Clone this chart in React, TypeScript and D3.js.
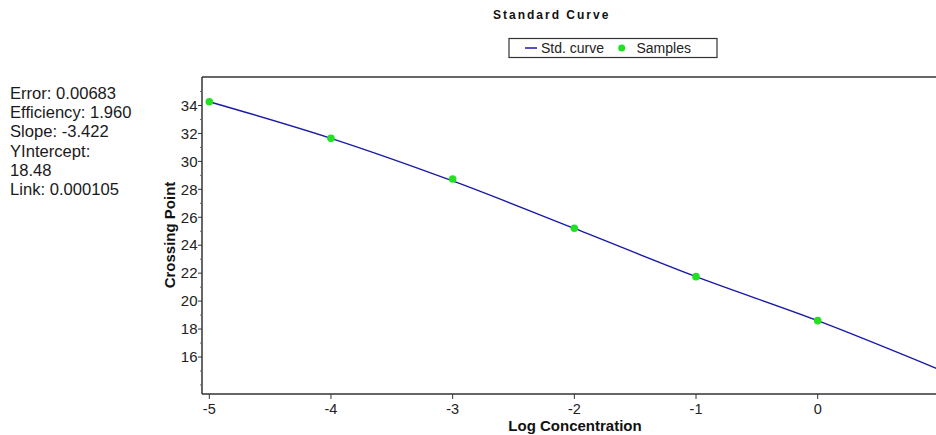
import React from "react";
import * as d3 from "d3";

const statLines = ["Error: 0.00683", "Efficiency: 1.960", "Slope: -3.422", "YIntercept:", "18.48", "Link: 0.000105"];
const sampleX = [-5, -4, -3, -2, -1, 0];
const sampleY = [34.27, 31.65, 28.74, 25.21, 21.75, 18.6];
const curveX = [-5, -4, -3, -2, -1, 0, 1];
const curveY = [34.27, 31.65, 28.6, 25.2, 21.75, 18.6, 15.1];
const xTicks = [-5, -4, -3, -2, -1, 0];
const yTicks = [16, 18, 20, 22, 24, 26, 28, 30, 32, 34];
const yMinor = [14, 15, 17, 19, 21, 23, 25, 27, 29, 31, 33, 35];

const W = 936, H = 435;
const left = 202, top = 77, right = 948, bottom = 394;
const sans = "'Liberation Sans', Arial, sans-serif";

export default function App() {
  const x = d3.scaleLinear().domain([-5, 0]).range([209.3, 817.7]);
  const y = d3.scaleLinear().domain([16, 34]).range([357, 105.5]);
  const line = d3.line<number>().x((_, i) => x(curveX[i])).y((d) => y(d)).curve(d3.curveMonotoneX);
  const axisColor = "#333";
  return (
    <svg width={W} height={H} style={{ position: "absolute", left: 0, top: 0, background: "#fff" }}>
      <defs>
        <clipPath id="plot">
          <rect x={left} y={top} width={right - left} height={bottom - top} />
        </clipPath>
      </defs>
      <rect x={0} y={0} width={W} height={H} fill="#fff" />
      {/* stats */}
      {statLines.map((s, i) => (
        <text key={s} x={10} y={93 + i * 19.3} dy="0.35em" fontFamily={sans} fontSize={16.6} fill="#1a1a1a">
          {s}
        </text>
      ))}
      {/* title */}
      <text x={493} y={15} dy="0.35em" fontFamily={sans} fontWeight={900} fontSize={12} letterSpacing={2} fill="#111">
        Standard Curve
      </text>
      {/* legend */}
      <rect x={509} y={38.5} width={208} height={19} fill="#fff" stroke="#333" strokeWidth={1.2} />
      <line x1={525} x2={537} y1={48} y2={48} stroke="#1a1aa8" strokeWidth={1.5} />
      <text x={541} y={48} dy="0.35em" fontFamily={sans} fontSize={14} fill="#222">Std. curve</text>
      <circle cx={621.7} cy={48} r={3.5} fill="#22e022" />
      <text x={636.5} y={48} dy="0.35em" fontFamily={sans} fontSize={14} fill="#222">Samples</text>
      {/* plot frame */}
      <line x1={left} x2={W} y1={top} y2={top} stroke={axisColor} strokeWidth={1.5} />
      <line x1={left} x2={left} y1={top} y2={bottom} stroke={axisColor} strokeWidth={1.5} />
      <line x1={left} x2={W} y1={bottom} y2={bottom} stroke={axisColor} strokeWidth={1.5} />
      {/* y ticks */}
      {yTicks.map((t) => (
        <g key={t}>
          <line x1={left - 4} x2={left} y1={y(t)} y2={y(t)} stroke={axisColor} />
          <text x={197.5} y={y(t)} dy="0.35em" textAnchor="end" fontFamily={sans} fontSize={15} fill="#222">
            {t}
          </text>
        </g>
      ))}
      {yMinor.map((t) => (
        <line key={t} x1={left - 2} x2={left} y1={y(t)} y2={y(t)} stroke="#666" />
      ))}
      {/* x ticks */}
      {xTicks.map((t) => (
        <g key={t}>
          <line x1={x(t)} x2={x(t)} y1={bottom} y2={bottom + 5} stroke={axisColor} />
          <text x={x(t)} y={409} dy="0.35em" textAnchor="middle" fontFamily={sans} fontSize={14.5} fill="#222">
            {t}
          </text>
        </g>
      ))}
      {/* axis titles */}
      <text x={575} y={426} dy="0.35em" textAnchor="middle" fontFamily={sans} fontWeight="bold" fontSize={15} fill="#111">
        Log Concentration
      </text>
      <text
        transform={`translate(170,235) rotate(-90)`}
        dy="0.35em"
        textAnchor="middle"
        fontFamily={sans}
        fontWeight="bold"
        fontSize={15}
        fill="#111"
      >
        Crossing Point
      </text>
      {/* curve & samples */}
      <g clipPath="url(#plot)">
        <path d={line(curveY) || ""} fill="none" stroke="#1a1aa8" strokeWidth={1.4} />
        {sampleX.map((sx, i) => (
          <circle key={sx} cx={x(sx)} cy={y(sampleY[i])} r={3.8} fill="#22e022" />
        ))}
      </g>
    </svg>
  );
}
